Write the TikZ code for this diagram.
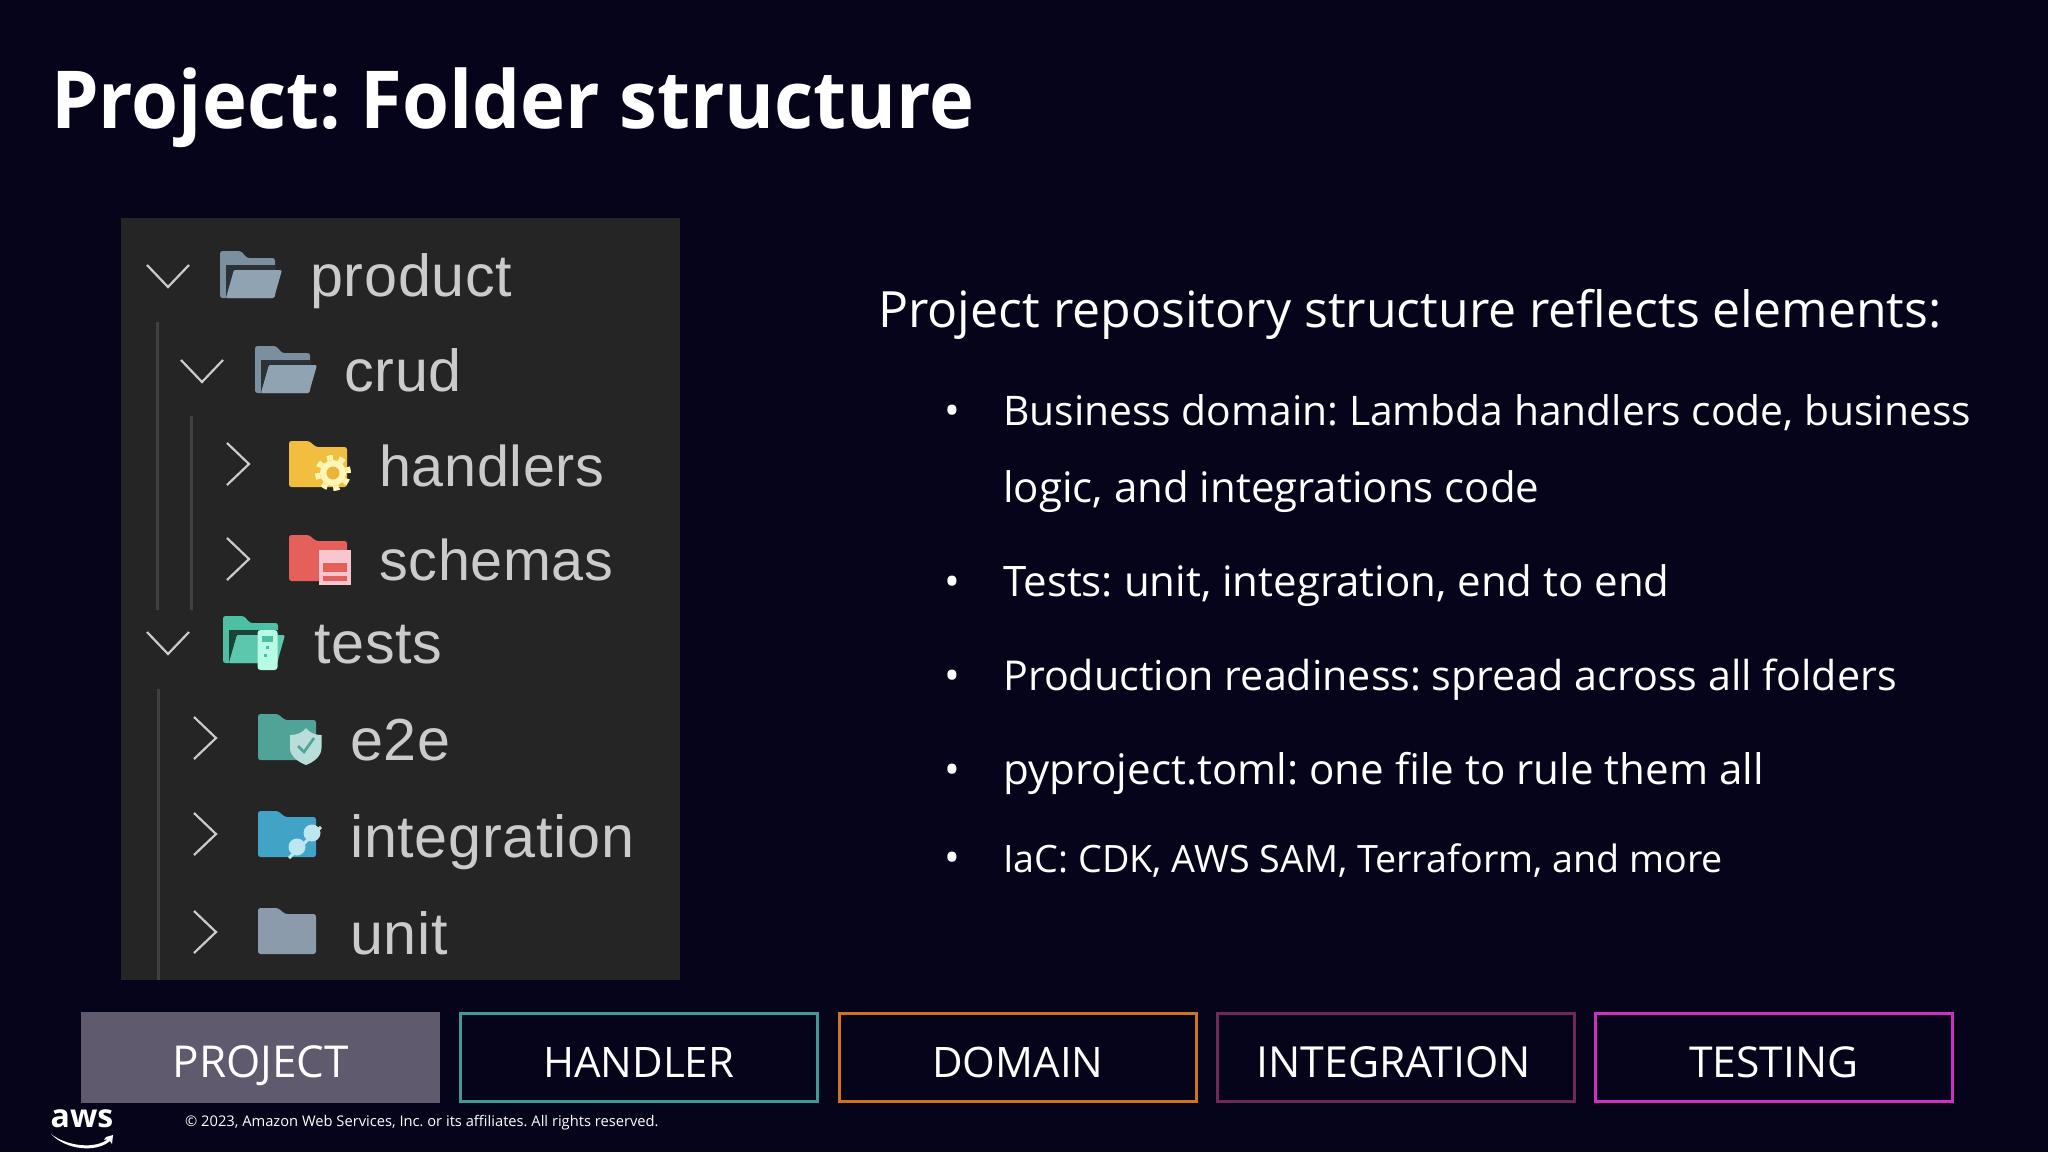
\documentclass[tikz,border=0pt]{standalone}
\usepackage{fontspec}
\setmainfont{Open Sans}
\newfontfamily\titlefont[FakeStretch=0.95]{Open Sans}
\newfontfamily\treefont[LetterSpace=1.2]{Liberation Sans}
\definecolor{slidebg}{HTML}{06041A}
\definecolor{panelbg}{HTML}{252526}
\definecolor{treetext}{HTML}{CBCBCB}
\definecolor{guideline}{HTML}{404040}
\definecolor{foldergray}{HTML}{8FA3B3}
\definecolor{folderback}{HTML}{7C8F9F}
\definecolor{folderyellow}{HTML}{F2BE3F}
\definecolor{gearlight}{HTML}{FEF6B5}
\definecolor{gearhole}{HTML}{E9B437}
\definecolor{folderred}{HTML}{E5605A}
\definecolor{badgepink}{HTML}{F8C6CE}
\definecolor{foldermint}{HTML}{4DBFA3}
\definecolor{frontmint}{HTML}{5CC7AD}
\definecolor{tubelight}{HTML}{B8FBE4}
\definecolor{folderteal}{HTML}{4FA497}
\definecolor{shieldlight}{HTML}{B9DEDA}
\definecolor{folderblue}{HTML}{41A3C6}
\definecolor{pluglight}{HTML}{BDE7F0}
\definecolor{folderplain}{HTML}{8C9BAC}
\definecolor{projectfill}{HTML}{5F5A6E}
\definecolor{handlerline}{HTML}{3F9A97}
\definecolor{domainline}{HTML}{D0741A}
\definecolor{integline}{HTML}{6D2A55}
\definecolor{testingline}{HTML}{D030C0}
\newcommand{\closedfolder}[3]{%
  \fill[#3,rounded corners=2.5pt,shift={(#1,#2)}] (0,46) -- (0,0) -- (20,0) -- (27,6) -- (58,6) -- (58,46) -- cycle;}
\newcommand{\openfolder}[4]{%
  \fill[#3,rounded corners=2.5pt,shift={(#1,#2)}] (0,47) -- (0,0) -- (21,0) -- (27,7) -- (55,7) -- (55,47) -- cycle;
  \fill[#3!35!black,shift={(#1,#2)}] (6,47) -- (6,14) -- (55,14) -- (55,19) -- (14,19) -- cycle;
  \fill[#4,rounded corners=1.5pt,shift={(#1,#2)}] (6,47) -- (14,19) -- (62,19) -- (54,47) -- cycle;}
\newcommand{\chevdown}[2]{\draw[chevron] (#1,#2) -- ++(21,22) -- ++(21,-22);}
\newcommand{\chevright}[2]{\draw[chevron] (#1,#2) -- ++(22,21) -- ++(-22,21);}
\begin{document}
\frenchspacing
\begin{tikzpicture}
[x=1pt,y=-1pt,
  treelabel/.style={anchor=base west,inner sep=0pt,text=treetext,font=\treefont\fontsize{59.3}{59}\selectfont},
  treesmall/.style={treelabel,font=\treefont\fontsize{57.5}{58}\selectfont},
  lead/.style={anchor=base west,inner sep=0pt,text=white,font=\fontsize{50}{50}\selectfont},
  point/.style={anchor=base west,inner sep=0pt,text=white,font=\fontsize{42}{44}\selectfont},
  tabbox/.style={minimum width=357pt,minimum height=88pt,inner sep=0pt,line width=2.5pt,anchor=north west},
  tablabel/.style={anchor=base,inner sep=0pt,text=white,font=\fontsize{42}{42}\selectfont},
  chevron/.style={draw=treetext,line width=2.2pt},
  guide/.style={draw=guideline,line width=3pt}]
\useasboundingbox (0,0) rectangle (2048,1152);
\fill[slidebg] (0,0) rectangle (2048,1152);
% title
\node (title) at (51,128) [anchor=base west,inner sep=0pt,text=white,font=\titlefont\bfseries\fontsize{80}{80}\selectfont] {Project: Folder structure};
% tree panel
\fill[panelbg] (120.5,218) rectangle (680,980);
\draw[guide] (157,322) -- (157,610);
\draw[guide] (191,416) -- (191,610);
\draw[guide] (158,689) -- (158,980);
% chevrons
\chevdown{147}{265}
\chevdown{181}{360}
\chevright{227}{443}
\chevright{227}{538}
\chevdown{147}{632}
\chevright{194}{717}
\chevright{194}{813}
\chevright{194}{911}
% folders
\openfolder{220}{251}{folderback}{foldergray}
\openfolder{255}{346}{folderback}{foldergray}
\closedfolder{289}{441}{folderyellow}
\fill[gearlight] (333,473) circle (13pt);
\draw[gearlight,line width=5pt,dash pattern=on 6pt off 6.2pt] (333,473) circle (15.5pt);
\fill[gearhole] (333,473) circle (6.5pt);
\closedfolder{289}{535}{folderred}
\draw[fill=badgepink,draw=badgepink,line width=1.5pt] (320,551) rectangle (350,584);
\fill[folderred] (323,563) rectangle (347,572);
\fill[folderred] (323,576) rectangle (347,581);
\openfolder{223}{616}{foldermint}{frontmint}
\fill[tubelight,rounded corners=3pt] (257.5,630) rectangle (277.5,670);
\fill[foldermint] (262,636) rectangle (273,642);
\fill[foldermint] (266,646) rectangle (269,649);
\fill[foldermint] (264,654) rectangle (267,657);
\closedfolder{258}{714}{folderteal}
\fill[shieldlight] (290,735) .. controls (298,735) and (303,732) .. (306,728) .. controls (309,732) and (314,735) .. (321.5,735) -- (321.5,748) .. controls (321.5,756) and (314,762) .. (306,765) .. controls (298,762) and (290,756) .. (290,748) -- cycle;
\draw[folderteal,line width=2.6pt] (298,746) -- (304,752) -- (314,738);
\closedfolder{258}{811}{folderblue}
\fill[pluglight] (297,847) circle (8.5pt);
\fill[pluglight] (312,833) circle (8.5pt);
\draw[pluglight,line width=3pt] (289,858) -- (321,827);
\closedfolder{258}{908}{folderplain}
% tree labels
\node (product) at (310,296) [treelabel] {product};
\node (crud) at (344,391) [treelabel] {crud};
\node (handlers) at (379,486) [treesmall] {handlers};
\node (schemas) at (379,580) [treesmall] {schemas};
\node (tests) at (314,663) [treelabel] {tests};
\node (e2e) at (350,760) [treelabel] {e2e};
\node (integration) at (350,857) [treelabel] {integration};
\node (unit) at (350,954) [treelabel] {unit};
% right column
\node (heading) at (878,327) [lead] {Project repository structure reflects elements:};
\node (dot1) at (944,425) [point] {•};
\node (line1) at (1003,425) [point,font=\fontsize{40.8}{42}\selectfont] {Business domain: Lambda handlers code, business};
\node (line1b) at (1003,502) [point] {logic, and integrations code};
\node (dot2) at (944,596) [point] {•};
\node (line2) at (1003,596) [point] {Tests: unit, integration, end to end};
\node (dot3) at (944,690) [point] {•};
\node (line3) at (1003,690) [point,font=\fontsize{41.2}{42}\selectfont] {Production readiness: spread across all folders};
\node (dot4) at (944,784) [point] {•};
\node (line4) at (1003,784) [point,font=\fontsize{42.1}{42}\selectfont] {pyproject.toml: one file to rule them all};
\node (dot5) at (944,872) [point] {•};
\node (line5) at (1003,872) [point,font=\fontsize{37.7}{38}\selectfont] {IaC: CDK, AWS SAM, Terraform, and more};
% tabs
\node (project) at (80,1011) [tabbox,fill=projectfill,minimum width=359pt,minimum height=91pt] {};
\node (handler) at (459,1012) [tabbox,draw=handlerline] {};
\node (domain) at (838,1012) [tabbox,draw=domainline] {};
\node (integ) at (1216,1012) [tabbox,draw=integline] {};
\node (testing) at (1594,1012) [tabbox,draw=testingline] {};
\node at (project.center |- 0,1077) [tablabel,font=\fontsize{44}{44}\selectfont] {PROJECT};
\node at (handler.center |- 0,1077) [tablabel] {HANDLER};
\node at (domain.center |- 0,1077) [tablabel] {DOMAIN};
\node at (integ.center |- 0,1077) [tablabel,font=\fontsize{42.8}{43}\selectfont,xshift=-2pt] {INTEGRATION};
\node at (testing.center |- 0,1077) [tablabel,font=\fontsize{42.6}{43}\selectfont] {TESTING};
% footer
\node (aws) at (82,1127) [anchor=base,inner sep=0pt,text=white,font=\bfseries\fontsize{32}{32}\selectfont] {aws};
\fill[white] (51,1134) .. controls (68,1147) and (96,1149) .. (108,1139) -- (104,1140) -- (106,1137) -- (113,1135) -- (112,1144) -- (110,1141) .. controls (96,1153) and (66,1150) .. (51,1134) -- cycle;
\node (legal) at (185,1126) [anchor=base west,inner sep=0pt,text=white,font=\fontsize{14.7}{15}\selectfont] {© 2023, Amazon Web Services, Inc. or its affiliates. All rights reserved.};
\end{tikzpicture}
\end{document}
